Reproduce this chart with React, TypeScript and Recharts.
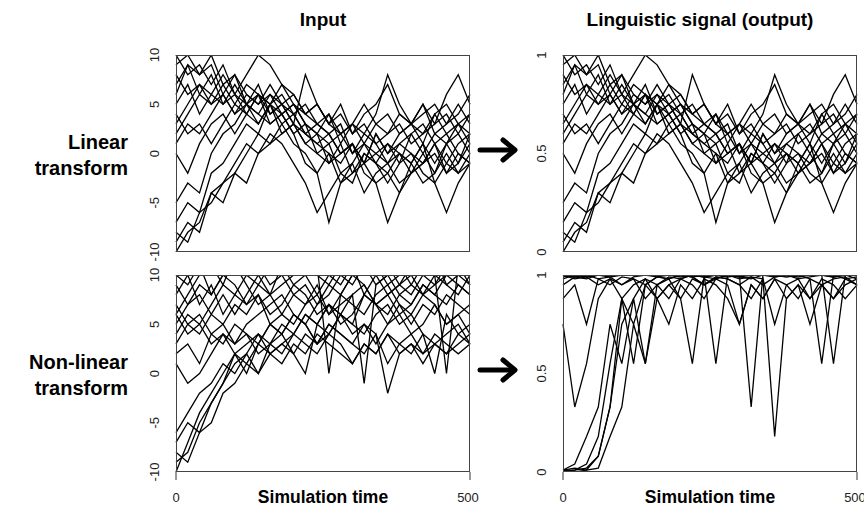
import React from 'react';
import { LineChart, Line, XAxis, YAxis } from 'recharts';

const times = [0, 20, 40, 60, 80, 100, 120, 140, 160, 180, 200, 220, 240, 260, 280, 300, 320, 340, 360, 380, 400, 420, 440, 460, 480, 500];

// linear transform, input
const linearIn = [
  [10, 8, 9, 7, 9, 6, 8, 10, 9, 7, 6, 4, 5, 3, 4, 2, 3, 1, 2, 3, 1, 2, 4, 2, 3, 2],
  [-9, -7, -8, -4, -3, -1, 1, 0, 2, 1, -1, -3, -6, -4, -2, -3, 0, -1, -2, 0, -1, 1, -1, 1, 2, 0],
  [5, 7, 4, 6, 5, 7, 5, 6, 4, 5, 3, 8, 5, 3, 5, 2, 4, 5, 7, 4, 3, 5, 3, 6, 8, 5],
  [-8, -9, -6, -5, -3, -2, 0, 2, 1, 3, 1, 0, -2, -7, -3, -1, -4, -2, -1, -3, -2, -1, 1, -2, 0, -1],
  [8, 6, 7, 5, 6, 4, 5, 3, 5, 3, 4, 2, 1, 2, 0, 1, -1, 2, 0, 1, 2, 0, 2, 1, 3, 1],
  [3, 5, 7, 6, 8, 6, 5, 7, 4, 5, 3, 2, 1, 0, -1, 1, -2, -3, -7, -4, -2, 0, -2, 1, -1, 2],
  [-7, -5, -6, -2, -1, 1, 3, 2, 5, 4, 5, 3, 2, 4, 1, 3, 2, 4, 8, 5, 3, 5, 2, 3, 5, 3],
  [6, 9, 8, 10, 7, 8, 6, 5, 6, 4, 5, 3, 2, 1, 2, 0, 1, -1, 1, 0, -1, 1, -3, -6, -3, -1],
  [1, 3, 2, 4, 6, 4, 6, 5, 7, 5, 6, 4, 3, 2, 0, 1, -1, 2, 0, 2, 3, 1, 4, 5, 3, 4],
  [-10, -8, -7, -4, -5, -2, -3, 0, 1, 2, 3, 1, 2, -1, 0, 1, -1, 0, 1, -1, 2, 3, 1, 2, 0, -1],
  [9, 10, 8, 9, 6, 8, 5, 4, 6, 5, 4, 2, 3, 2, 3, 0, 2, 1, -1, 0, -2, -1, 1, -1, -2, 0],
  [4, 2, 3, 1, 3, 5, 4, 6, 3, 4, 2, -1, -2, 0, -3, -2, 0, -1, -3, -1, 0, -2, -3, -1, 1, 2],
  [7, 9, 6, 8, 5, 6, 4, 6, 5, 6, 4, 5, 3, 4, 2, 3, 1, 3, 2, 4, 3, 2, 3, 4, 2, 4],
  [-5, -3, -4, 0, 2, 3, 5, 4, 3, 4, 2, 3, 0, 1, -2, -1, 1, 0, -1, 1, 0, -1, 0, -2, -1, 1],
  [2, 4, 6, 5, 7, 5, 7, 6, 5, 7, 5, 4, 5, 3, 2, 3, 5, 3, 4, 2, 3, 4, 5, 3, 4, 6],
  [0, -2, 1, 3, 4, 2, 4, 3, 5, 2, 3, 1, 0, -1, 1, -2, -1, -3, -2, -4, -1, -3, -2, 0, -2, -1],
];

// linear transform, output
const linearOut = [
  [1, 0.9, 0.95, 0.85, 0.95, 0.8, 0.9, 1, 0.95, 0.85, 0.8, 0.7, 0.75, 0.65, 0.7, 0.6, 0.65, 0.55, 0.6, 0.65, 0.55, 0.6, 0.7, 0.6, 0.65, 0.6],
  [0.05, 0.15, 0.1, 0.3, 0.35, 0.45, 0.55, 0.5, 0.6, 0.55, 0.45, 0.35, 0.2, 0.3, 0.4, 0.35, 0.5, 0.45, 0.4, 0.5, 0.45, 0.55, 0.45, 0.55, 0.6, 0.5],
  [0.75, 0.85, 0.7, 0.8, 0.75, 0.85, 0.75, 0.8, 0.7, 0.75, 0.65, 0.9, 0.75, 0.65, 0.75, 0.6, 0.7, 0.75, 0.85, 0.7, 0.65, 0.75, 0.65, 0.8, 0.9, 0.75],
  [0.1, 0.05, 0.2, 0.25, 0.35, 0.4, 0.5, 0.6, 0.55, 0.65, 0.55, 0.5, 0.4, 0.15, 0.35, 0.45, 0.3, 0.4, 0.45, 0.35, 0.4, 0.45, 0.55, 0.4, 0.5, 0.45],
  [0.9, 0.8, 0.85, 0.75, 0.8, 0.7, 0.75, 0.65, 0.75, 0.65, 0.7, 0.6, 0.55, 0.6, 0.5, 0.55, 0.45, 0.6, 0.5, 0.55, 0.6, 0.5, 0.6, 0.55, 0.65, 0.55],
  [0.65, 0.75, 0.85, 0.8, 0.9, 0.8, 0.75, 0.85, 0.7, 0.75, 0.65, 0.6, 0.55, 0.5, 0.45, 0.55, 0.4, 0.35, 0.15, 0.3, 0.4, 0.5, 0.4, 0.55, 0.45, 0.6],
  [0.15, 0.25, 0.2, 0.4, 0.45, 0.55, 0.65, 0.6, 0.75, 0.7, 0.75, 0.65, 0.6, 0.7, 0.55, 0.65, 0.6, 0.7, 0.9, 0.75, 0.65, 0.75, 0.6, 0.65, 0.75, 0.65],
  [0.8, 0.95, 0.9, 1, 0.85, 0.9, 0.8, 0.75, 0.8, 0.7, 0.75, 0.65, 0.6, 0.55, 0.6, 0.5, 0.55, 0.45, 0.55, 0.5, 0.45, 0.55, 0.35, 0.2, 0.35, 0.45],
  [0.55, 0.65, 0.6, 0.7, 0.8, 0.7, 0.8, 0.75, 0.85, 0.75, 0.8, 0.7, 0.65, 0.6, 0.5, 0.55, 0.45, 0.6, 0.5, 0.6, 0.65, 0.55, 0.7, 0.75, 0.65, 0.7],
  [0, 0.1, 0.15, 0.3, 0.25, 0.4, 0.35, 0.5, 0.55, 0.6, 0.65, 0.55, 0.6, 0.45, 0.5, 0.55, 0.45, 0.5, 0.55, 0.45, 0.6, 0.65, 0.55, 0.6, 0.5, 0.45],
  [0.95, 1, 0.9, 0.95, 0.8, 0.9, 0.75, 0.7, 0.8, 0.75, 0.7, 0.6, 0.65, 0.6, 0.65, 0.5, 0.6, 0.55, 0.45, 0.5, 0.4, 0.45, 0.55, 0.45, 0.4, 0.5],
  [0.7, 0.6, 0.65, 0.55, 0.65, 0.75, 0.7, 0.8, 0.65, 0.7, 0.6, 0.45, 0.4, 0.5, 0.35, 0.4, 0.5, 0.45, 0.35, 0.45, 0.5, 0.4, 0.35, 0.45, 0.55, 0.6],
  [0.85, 0.95, 0.8, 0.9, 0.75, 0.8, 0.7, 0.8, 0.75, 0.8, 0.7, 0.75, 0.65, 0.7, 0.6, 0.65, 0.55, 0.65, 0.6, 0.7, 0.65, 0.6, 0.65, 0.7, 0.6, 0.7],
  [0.25, 0.35, 0.3, 0.5, 0.6, 0.65, 0.75, 0.7, 0.65, 0.7, 0.6, 0.65, 0.5, 0.55, 0.4, 0.45, 0.55, 0.5, 0.45, 0.55, 0.5, 0.45, 0.5, 0.4, 0.45, 0.55],
  [0.6, 0.7, 0.8, 0.75, 0.85, 0.75, 0.85, 0.8, 0.75, 0.85, 0.75, 0.7, 0.75, 0.65, 0.6, 0.65, 0.75, 0.65, 0.7, 0.6, 0.65, 0.7, 0.75, 0.65, 0.7, 0.8],
  [0.5, 0.4, 0.55, 0.65, 0.7, 0.6, 0.7, 0.65, 0.75, 0.6, 0.65, 0.55, 0.5, 0.45, 0.55, 0.4, 0.45, 0.35, 0.4, 0.3, 0.45, 0.35, 0.4, 0.5, 0.4, 0.45],
];

// non-linear transform, input (runs past 10 are clipped by the frame)
const nonlinearIn = [
  [-9, -8, -5, -3, -1, 1, 2, 4, 3, 5, 4, 6, 5, 7, 6, 5, 8, 7, 6, 8, 7, 9, 8, 7, 9, 8],
  [6, 8, 10, 11, 9, 12, 10, 11, 9, 10, 12, 11, 10, 9, 11, 12, 10, 11, 9, 10, 12, 11, 10, 12, 11, 10],
  [-10, -7, -4, -2, 0, 2, 1, 3, 2, 1, 3, 2, 4, 3, 2, 1, 3, 2, 4, 3, 2, 4, 3, 2, 3, 4],
  [9, 7, 8, 6, 5, 7, 6, 8, 5, 4, 6, 5, 3, 5, 4, 3, 5, 4, 1, 3, 4, 2, 3, 4, 5, 3],
  [4, 6, 5, 7, 9, 8, 10, 9, 11, 10, 8, 9, 7, 8, 10, 9, 11, 10, 8, 9, 10, 8, 9, 10, 11, 9],
  [-8, -9, -6, -5, -2, -1, 1, 0, 2, 3, 2, 4, 3, 5, 4, 3, 2, 4, -2, 2, 3, 1, 3, 2, 4, 3],
  [10, 9, 11, 8, 10, 9, 7, 8, 6, 7, 9, 8, 6, 7, 5, 6, 8, 7, 5, 7, 6, 8, 7, 5, 6, 7],
  [2, 3, 1, 4, 3, 5, 4, 3, 5, 6, 5, 7, 8, 6, 7, 8, 9, 7, 8, 6, 7, 9, 8, 10, 9, 8],
  [7, 5, 6, 4, 5, 3, 4, 2, 3, 4, 2, 0, 5, 4, 6, 5, 4, 6, 7, 5, 6, 4, 0, 6, 4, 5],
  [-6, -4, -2, -1, 1, 0, 2, 0, 3, 2, 4, 6, 5, 7, 6, 8, -1, 9, 10, 8, 9, 11, 10, 9, 8, 10],
  [5, 7, 9, 8, 10, 11, 9, 7, 8, 9, 10, 12, 11, 0, 8, 10, 9, 7, 8, 9, 11, 10, 12, 9, 10, 11],
  [1, -1, 0, 2, 4, 3, 5, 6, 7, 8, 6, 5, 7, 9, 8, 10, 11, 9, 10, 11, 9, 8, 10, 0, 11, 12],
  [8, 10, 7, 9, 6, 8, 7, 9, 8, 6, 8, 7, 9, 6, 8, 7, 6, 8, 9, 7, 5, 7, 6, 8, 7, 6],
  [-7, -5, -6, -3, -1, 2, 0, 3, 5, 4, 6, 5, 3, 4, 6, 4, 5, 3, 5, 6, 4, 5, 7, 5, 6, 4],
  [3, 5, 4, 6, 8, 6, 8, 10, 8, 11, 9, 10, 8, 10, 9, 11, 8, 10, 11, 9, 8, 10, 9, 11, 10, 9],
  [6, 4, 5, 3, 4, 2, 3, 4, 2, 3, 4, 3, 2, 4, 3, 1, 3, 2, 4, 2, 3, 2, 4, 3, 2, 3],
];

// non-linear transform, output
const nonlinearOut = [
  [0.01, 0.01, 0.02, 0.08, 0.33, 0.75, 0.88, 0.98, 0.95, 0.99, 0.98, 1, 0.99, 1, 1, 0.99, 1, 1, 1, 1, 1, 1, 1, 1, 1, 1],
  [1, 1, 1, 1, 1, 1, 1, 1, 1, 1, 1, 1, 1, 1, 1, 1, 1, 1, 1, 1, 1, 1, 1, 1, 1, 1],
  [0, 0.01, 0.04, 0.18, 0.55, 0.88, 0.75, 0.95, 0.88, 0.75, 0.95, 0.88, 0.98, 0.95, 0.88, 0.75, 0.95, 0.88, 0.98, 0.95, 0.88, 0.98, 0.95, 0.88, 0.95, 0.98],
  [1, 1, 1, 1, 0.99, 1, 1, 1, 0.99, 0.98, 1, 0.99, 0.95, 0.99, 0.98, 0.95, 0.99, 0.98, 0.75, 0.95, 0.98, 0.88, 0.95, 0.98, 0.99, 0.95],
  [0.98, 1, 0.99, 1, 1, 1, 1, 1, 1, 1, 1, 1, 1, 1, 1, 1, 1, 1, 1, 1, 1, 1, 1, 1, 1, 1],
  [0.01, 0, 0.01, 0.02, 0.18, 0.33, 0.75, 0.55, 0.88, 0.95, 0.88, 0.98, 0.95, 0.99, 0.98, 0.95, 0.88, 0.98, 0.18, 0.88, 0.95, 0.75, 0.95, 0.88, 0.98, 0.95],
  [1, 1, 1, 1, 1, 1, 1, 1, 1, 1, 1, 1, 1, 1, 0.99, 1, 1, 1, 0.99, 1, 1, 1, 1, 0.99, 1, 1],
  [0.88, 0.95, 0.75, 0.98, 0.95, 0.99, 0.98, 0.95, 0.99, 1, 0.99, 1, 1, 1, 1, 1, 1, 1, 1, 1, 1, 1, 1, 1, 1, 1],
  [1, 0.99, 1, 0.98, 0.99, 0.95, 0.98, 0.88, 0.95, 0.98, 0.88, 0.55, 0.99, 0.98, 1, 0.99, 0.98, 1, 1, 0.99, 1, 0.98, 0.55, 1, 0.98, 0.99],
  [0.01, 0.04, 0.18, 0.33, 0.75, 0.55, 0.88, 0.55, 0.95, 0.88, 0.98, 1, 0.99, 1, 1, 1, 0.33, 1, 1, 1, 1, 1, 1, 1, 1, 1],
  [0.99, 1, 1, 1, 1, 1, 1, 1, 1, 1, 1, 1, 1, 0.55, 1, 1, 1, 1, 1, 1, 1, 1, 1, 1, 1, 1],
  [0.75, 0.33, 0.55, 0.88, 0.98, 0.95, 0.99, 1, 1, 1, 1, 0.99, 1, 1, 1, 1, 1, 1, 1, 1, 1, 1, 1, 0.55, 1, 1],
  [1, 1, 1, 1, 1, 1, 1, 1, 1, 1, 1, 1, 1, 1, 1, 1, 1, 1, 1, 1, 0.99, 1, 1, 1, 1, 1],
  [0.01, 0.02, 0.01, 0.08, 0.33, 0.88, 0.55, 0.95, 0.99, 0.98, 1, 0.99, 0.95, 0.98, 1, 0.98, 0.99, 0.95, 0.99, 1, 0.98, 0.99, 1, 0.99, 1, 0.98],
  [0.95, 0.99, 0.98, 1, 1, 1, 1, 1, 1, 1, 1, 1, 1, 1, 1, 1, 1, 1, 1, 1, 1, 1, 1, 1, 1, 1],
  [1, 0.98, 0.99, 0.95, 0.98, 0.88, 0.95, 0.98, 0.88, 0.95, 0.98, 0.95, 0.88, 0.98, 0.95, 0.75, 0.95, 0.88, 0.98, 0.88, 0.95, 0.88, 0.98, 0.95, 0.88, 0.95],
];

const inputTicks = [-10, -5, 0, 5, 10];
const outputTicks = [0, 0.5, 1];
const timeTicks = [0, 500];

const FONT = '"Liberation Sans", Arial, Helvetica, sans-serif';
const PW = 294;
const PH = 197;

function buildRows(series: number[][]) {
  return times.map((t, i) => {
    const row: Record<string, number> = { t };
    series.forEach((s, j) => {
      row['s' + j] = s[i];
    });
    return row;
  });
}

const YTick = (props: any) => {
  const { y, payload } = props;
  return (
    <text x={28} y={y} transform={`rotate(-90 28 ${y})`} textAnchor="middle" dominantBaseline="central" fontSize={13} fill="#222" fontFamily={FONT}>
      {payload.value}
    </text>
  );
};

const XTick = (props: any) => {
  const { x, payload } = props;
  return (
    <text x={x} y={10 + PH + 25} textAnchor="middle" dominantBaseline="central" fontSize={13} fill="#222" fontFamily={FONT}>
      {payload.value}
    </text>
  );
};

const Panel = ({ left, top, series, domain, ticks, showX }: any) => {
  const rows = buildRows(series);
  return (
    <>
      <div style={{ position: 'absolute', left: left - 50, top: top - 10 }}>
        <LineChart width={PW + 60} height={PH + 50} data={rows} margin={{ top: 10, right: 10, bottom: showX ? 0 : 40, left: 0 }}>
          <XAxis
            dataKey="t"
            type="number"
            domain={[0, 500]}
            ticks={timeTicks}
            hide={!showX}
            height={40}
            axisLine={false}
            tickLine={{ stroke: '#333' }}
            tickSize={8}
            tick={<XTick />}
          />
          <YAxis type="number" domain={domain} ticks={ticks} allowDataOverflow width={50} axisLine={false} tickLine={false} tick={<YTick />} />
          {series.map((_: number[], j: number) => (
            <Line key={j} type="linear" dataKey={'s' + j} stroke="#000" strokeWidth={1.3} dot={false} isAnimationActive={false} />
          ))}
        </LineChart>
      </div>
      <div style={{ position: 'absolute', left, top, width: PW, height: PH, border: '1px solid #444', boxSizing: 'border-box', pointerEvents: 'none' }} />
    </>
  );
};

const Arrow = ({ top }: { top: number }) => (
  <svg style={{ position: 'absolute', left: 477, top: top - 14 }} width={42} height={28}>
    <line x1={3} y1={14} x2={37} y2={14} stroke="#000" strokeWidth={5} strokeLinecap="round" />
    <polyline points="26,4 38,14 26,24" fill="none" stroke="#000" strokeWidth={5} strokeLinecap="round" strokeLinejoin="round" />
  </svg>
);

const bold: React.CSSProperties = { position: 'absolute', fontFamily: FONT, fontWeight: 'bold', color: '#000', whiteSpace: 'nowrap' };

export default function App() {
  return (
    <div style={{ position: 'absolute', left: 0, top: 0, width: 864, height: 508, background: '#fff', overflow: 'hidden' }}>
      <div style={{ ...bold, left: 176, width: PW, top: 8, lineHeight: '24px', fontSize: 19, textAlign: 'center' }}>Input</div>
      <div style={{ ...bold, left: 553, width: PW, top: 8, lineHeight: '24px', fontSize: 19, textAlign: 'center' }}>Linguistic signal (output)</div>

      <div style={{ ...bold, left: 0, width: 128, top: 129, lineHeight: '26px', fontSize: 20, textAlign: 'right' }}>
        Linear
        <br />
        transform
      </div>
      <div style={{ ...bold, left: 0, width: 128, top: 349, lineHeight: '26px', fontSize: 20, textAlign: 'right' }}>
        Non-linear
        <br />
        transform
      </div>

      <Panel left={176} top={55} series={linearIn} domain={[-10, 10]} ticks={inputTicks} showX={false} />
      <Panel left={563} top={55} series={linearOut} domain={[0, 1]} ticks={outputTicks} showX={false} />
      <Panel left={176} top={275} series={nonlinearIn} domain={[-10, 10]} ticks={inputTicks} showX={true} />
      <Panel left={563} top={275} series={nonlinearOut} domain={[0, 1]} ticks={outputTicks} showX={true} />

      <Arrow top={150} />
      <Arrow top={370} />

      <div style={{ ...bold, left: 176, width: PW, top: 485, lineHeight: '24px', fontSize: 17.5, textAlign: 'center' }}>Simulation time</div>
      <div style={{ ...bold, left: 563, width: PW, top: 485, lineHeight: '24px', fontSize: 17.5, textAlign: 'center' }}>Simulation time</div>
    </div>
  );
}
